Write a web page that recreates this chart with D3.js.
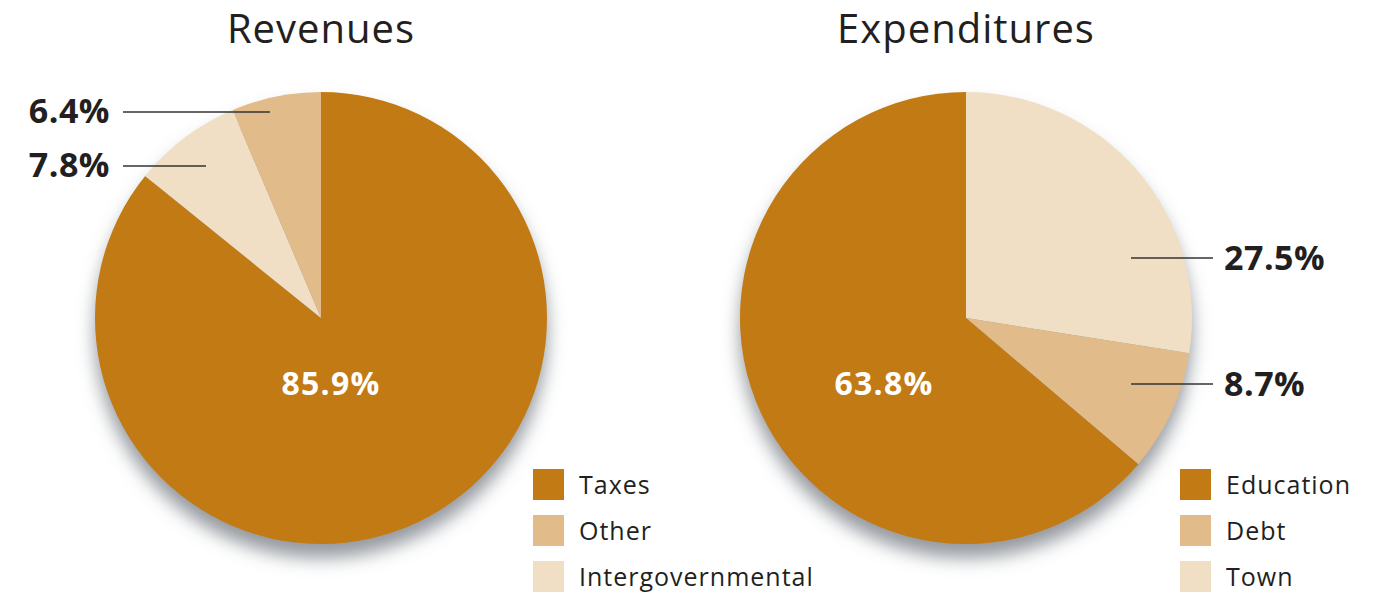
<!DOCTYPE html>
<html>
<head>
<meta charset="utf-8">
<script src="https://cdn.jsdelivr.net/npm/d3@7"></script>
<style>
  body { margin: 0; background: #fff; }
  text { font-family: "Open Sans", "Noto Sans", sans-serif; }
</style>
</head>
<body>
<script>
var width = 1382, height = 595;

// data
var revLabels = ["Taxes", "Intergovernmental", "Other"];
var revValues = [85.9, 7.8, 6.4];
var expLabels = ["Town", "Debt", "Education"];
var expValues = [27.5, 8.7, 63.8];
var revLegend = ["Taxes", "Other", "Intergovernmental"];
var expLegend = ["Education", "Debt", "Town"];

var colorOf = {
    "Taxes": "#C27A14", "Education": "#C27A14",
    "Other": "#E1BC8A", "Debt": "#E1BC8A",
    "Intergovernmental": "#F0DFC5", "Town": "#F0DFC5"
};

var svg = d3.select("body").append("svg")
    .attr("width", width)
    .attr("height", height);

var defs = svg.append("defs");
var filt = defs.append("filter").attr("id", "shadow")
    .attr("x", "-20%").attr("y", "-20%").attr("width", "140%").attr("height", "150%");
filt.append("feGaussianBlur").attr("in", "SourceAlpha").attr("stdDeviation", 9).attr("result", "b");
filt.append("feOffset").attr("in", "b").attr("dx", 0).attr("dy", 14).attr("result", "o");
filt.append("feFlood").attr("flood-color", "#8f949a").attr("flood-opacity", 0.95);
filt.append("feComposite").attr("in2", "o").attr("operator", "in");

var r = 226;
var pie = d3.pie().sort(null).value(d => d.v);
var arc = d3.arc().innerRadius(0).outerRadius(r);

function drawPie(cx, title, labels, values, legend, legendX, inner, outer) {
    var g = svg.append("g").attr("transform", `translate(${cx},318)`);
    var data = labels.map((l, i) => ({ k: l, v: values[i] }));

    // shadow
    g.append("circle").attr("r", r).attr("fill", "#000").attr("filter", "url(#shadow)");

    g.selectAll("path.slice")
        .data(pie(data))
        .enter().append("path")
        .attr("class", "slice")
        .attr("d", arc)
        .attr("fill", d => colorOf[d.data.k]);

    svg.append("text")
        .attr("x", cx).attr("y", 43)
        .attr("text-anchor", "middle")
        .style("font-size", "40px")
        .style("letter-spacing", "1px")
        .style("fill", "#231f20")
        .text(title);

    // inside label
    g.append("text")
        .attr("x", inner.x).attr("y", inner.y)
        .attr("text-anchor", "middle")
        .style("font-size", "32px").style("font-weight", "bold")
        .style("letter-spacing", "1.2px")
        .style("fill", "#fff")
        .text(inner.t);

    // outside labels with leader lines
    outer.forEach(o => {
        svg.append("line")
            .attr("x1", o.x1).attr("x2", o.x2)
            .attr("y1", o.ly).attr("y2", o.ly)
            .attr("stroke", "#333").attr("stroke-width", 1.3);
        svg.append("text")
            .attr("x", o.tx).attr("y", o.ty)
            .attr("text-anchor", o.anchor)
            .style("font-size", "34px").style("font-weight", "bold")
            .style("letter-spacing", "0.5px")
            .style("fill", "#231f20")
            .text(o.t);
    });

    // legend
    var lg = svg.append("g").attr("transform", `translate(${legendX},469)`);
    var item = lg.selectAll("g").data(legend).enter().append("g")
        .attr("transform", (d, i) => `translate(0,${i * 46})`);
    item.append("rect").attr("width", 31).attr("height", 31).attr("fill", d => colorOf[d]);
    item.append("text").attr("x", 46).attr("y", 25)
        .style("font-size", "25px").style("letter-spacing", "1px").style("fill", "#231f20")
        .text(d => d);
}

function fmt(v) { return v.toFixed(1) + "%"; }

drawPie(321, "Revenues", revLabels, revValues, revLegend, 533,
    { x: 10, y: 77, t: fmt(revValues[0]) },
    [
        { t: fmt(revValues[2]), x1: 123, x2: 270, ly: 112, tx: 110, ty: 123, anchor: "end" },
        { t: fmt(revValues[1]), x1: 123, x2: 206, ly: 166, tx: 110, ty: 177, anchor: "end" }
    ]);

drawPie(966, "Expenditures", expLabels, expValues, expLegend, 1180,
    { x: -82, y: 77, t: fmt(expValues[2]) },
    [
        { t: fmt(expValues[0]), x1: 1131, x2: 1213, ly: 258, tx: 1224, ty: 270, anchor: "start" },
        { t: fmt(expValues[1]), x1: 1131, x2: 1213, ly: 384, tx: 1224, ty: 396, anchor: "start" }
    ]);
</script>
</body>
</html>
